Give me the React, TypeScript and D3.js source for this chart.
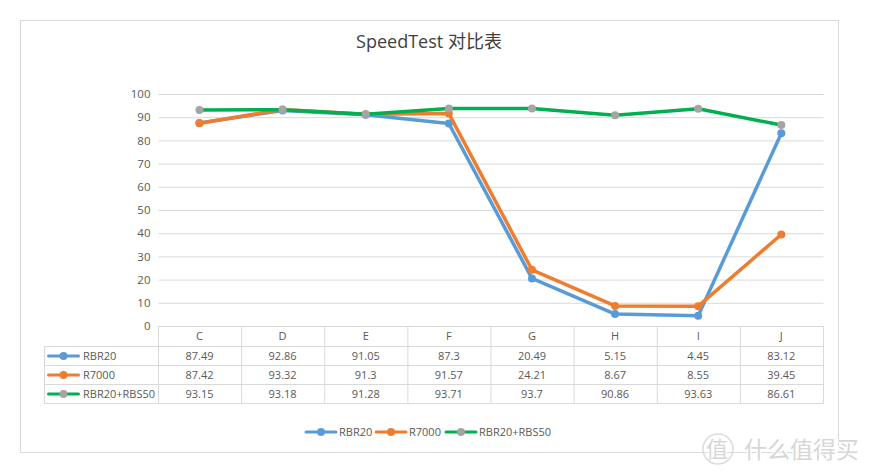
import React, {useEffect, useRef} from 'react';
import * as d3 from 'd3';

const categories = ['C', 'D', 'E', 'F', 'G', 'H', 'I', 'J'];
const rbr20 = [87.49, 92.86, 91.05, 87.3, 20.49, 5.15, 4.45, 83.12];
const r7000 = [87.42, 93.32, 91.3, 91.57, 24.21, 8.67, 8.55, 39.45];
const rbr20Rbs50 = [93.15, 93.18, 91.28, 93.71, 93.7, 90.86, 93.63, 86.61];
const yTicks = [0, 10, 20, 30, 40, 50, 60, 70, 80, 90, 100];

const series = [
  {name: 'RBR20', values: rbr20, line: '#5b9bd5', dot: '#5b9bd5'},
  {name: 'R7000', values: r7000, line: '#ed7d31', dot: '#ed7d31'},
  {name: 'RBR20+RBS50', values: rbr20Rbs50, line: '#00b050', dot: '#a5a5a5'},
];

const width = 869;
const height = 475;
const plot = {left: 158.5, right: 823.5, top: 94, bottom: 326};
const tableLeft = 44.5;
const rowY = [326.5, 346.5, 365.5, 384.5, 403.5];
const grid = '#d9d9d9';
const textColor = '#595959';
const font = '"Open Sans", "Noto Sans CJK SC", sans-serif';

// little line + dot sample used in the legend and in the table
function legendKey(g: any, x1: number, x2: number, y: number, s: typeof series[number]) {
  g.append('line')
    .attr('x1', x1).attr('x2', x2).attr('y1', y).attr('y2', y)
    .attr('stroke', s.line).attr('stroke-width', 3).attr('stroke-linecap', 'round');
  g.append('circle')
    .attr('cx', (x1 + x2) / 2).attr('cy', y).attr('r', 4).attr('fill', s.dot);
}

export default function App() {
  const ref = useRef<SVGSVGElement>(null);

  useEffect(() => {
    document.body.style.margin = '0';
    const svg = d3.select(ref.current!);
    svg.selectAll('*').remove();
    svg.attr('font-family', font);

    svg.append('rect').attr('width', width).attr('height', height).attr('fill', '#fff');
    svg.append('rect')
      .attr('x', 20.5).attr('y', 20.5).attr('width', 818).attr('height', 432)
      .attr('fill', 'none').attr('stroke', '#d9d9d9');

    svg.append('text')
      .attr('x', 429).attr('y', 48).attr('text-anchor', 'middle')
      .attr('font-size', 18).attr('fill', '#404040')
      .text('SpeedTest 对比表');

    const x = d3.scaleBand<string>().domain(categories).range([plot.left, plot.right]);
    const y = d3.scaleLinear().domain([0, 100]).range([plot.bottom, plot.top]);
    const center = (c: string) => x(c)! + x.bandwidth() / 2 - 0.6;

    // y axis with its gridlines
    svg.append('g')
      .attr('transform', `translate(${plot.left},0)`)
      .call(d3.axisLeft(y).tickValues(yTicks).tickSize(0).tickPadding(8))
      .call(g => g.select('.domain').remove())
      .call(g => g.selectAll('.tick line').clone()
        .attr('x2', plot.right - plot.left)
        .attr('stroke', grid))
      .call(g => g.selectAll('.tick text')
        .attr('font-size', 11.5).attr('font-family', font).attr('fill', textColor));

    // data table under the plot
    const table = svg.append('g').attr('stroke', grid).attr('fill', 'none');
    rowY.forEach((ry, i) => {
      table.append('line')
        .attr('x1', i === 0 ? plot.left : tableLeft).attr('x2', plot.right)
        .attr('y1', ry).attr('y2', ry);
    });
    table.append('line')
      .attr('x1', tableLeft).attr('x2', tableLeft).attr('y1', rowY[1]).attr('y2', rowY[4]);
    [...categories.map(c => x(c)!), plot.right].forEach(cx => {
      table.append('line')
        .attr('x1', cx).attr('x2', cx).attr('y1', rowY[0]).attr('y2', rowY[4]);
    });

    const cellText = (tx: number, ty: number, label: string, anchor = 'middle') =>
      svg.append('text')
        .attr('x', tx).attr('y', ty).attr('dy', '0.35em').attr('text-anchor', anchor)
        .attr('font-size', 11).attr('fill', textColor).text(label);

    categories.forEach(c => cellText(center(c), (rowY[0] + rowY[1]) / 2, c));
    series.forEach((s, i) => {
      const cy = (rowY[i + 1] + rowY[i + 2]) / 2;
      legendKey(svg, 48.5, 78.5, cy, s);
      cellText(83, cy, s.name, 'start');
      s.values.forEach((v, j) => cellText(center(categories[j]), cy, String(v)));
    });

    // lines
    const line = d3.line<number>()
      .x((_, i) => center(categories[i]))
      .y(d => y(d));
    series.forEach(s => {
      svg.append('path')
        .attr('d', line(s.values))
        .attr('fill', 'none')
        .attr('stroke', s.line)
        .attr('stroke-width', 3.5)
        .attr('stroke-linejoin', 'round')
        .attr('stroke-linecap', 'round');
      svg.append('g').selectAll('circle').data(s.values).join('circle')
        .attr('cx', (_, i) => center(categories[i]))
        .attr('cy', d => y(d))
        .attr('r', 4)
        .attr('fill', s.dot);
    });

    // bottom legend
    const legendY = 432;
    const legendAt = [306, 376, 446];
    series.forEach((s, i) => {
      legendKey(svg, legendAt[i], legendAt[i] + 30, legendY, s);
      svg.append('text')
        .attr('x', legendAt[i] + 33).attr('y', legendY).attr('dy', '0.35em')
        .attr('font-size', 11).attr('fill', textColor).text(s.name);
    });

    // watermark, bottom right corner
    const mark = svg.append('g')
      .attr('fill', '#d6d6d6')
      .attr('stroke', '#fff').attr('stroke-width', 2.5).attr('paint-order', 'stroke')
      .attr('font-family', '"Noto Sans CJK SC", sans-serif');
    svg.append('circle')
      .attr('cx', 718).attr('cy', 449).attr('r', 15)
      .attr('fill', 'none').attr('stroke', '#dcdcdc').attr('stroke-width', 1.5);
    mark.append('text').attr('x', 717).attr('y', 457).attr('text-anchor', 'middle').attr('font-size', 22).text('值');
    mark.append('text').attr('x', 744).attr('y', 458).attr('font-size', 23).text('什么值得买');
  }, []);

  return <svg ref={ref} width={width} height={height} style={{display: 'block'}}/>;
}
